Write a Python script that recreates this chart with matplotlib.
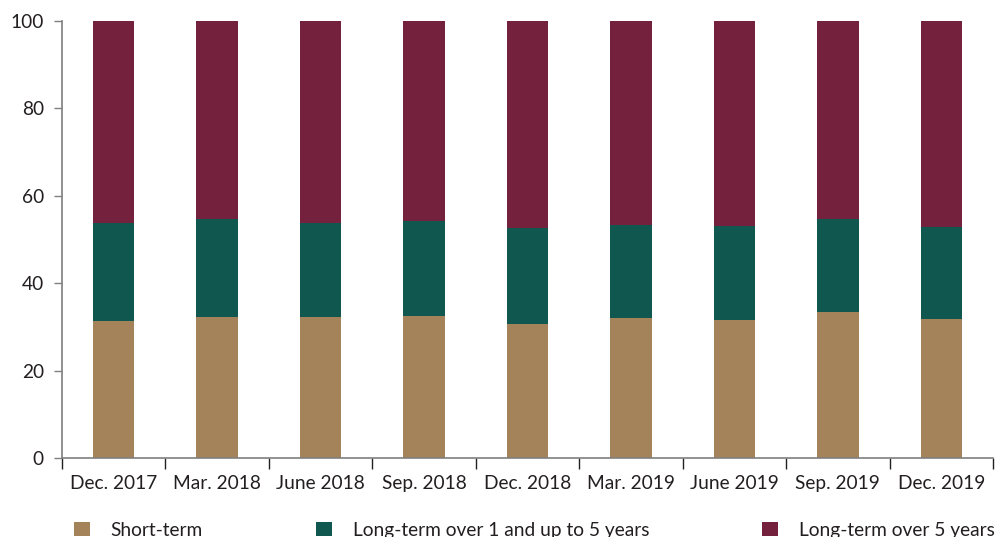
import numpy as np
import matplotlib.pyplot as plt
from matplotlib.patches import Patch

plt.rcParams['font.family'] = ['Lato', 'DejaVu Sans']
plt.rcParams['font.size'] = 13.8

# Data (percent shares)
periods = ['Dec. 2017', 'Mar. 2018', 'June 2018', 'Sep. 2018', 'Dec. 2018',
           'Mar. 2019', 'June 2019', 'Sep. 2019', 'Dec. 2019']
short_term = [31.3, 32.2, 32.3, 32.4, 30.7, 32.0, 31.5, 33.4, 31.7]
long_1_5 = [22.5, 22.4, 21.5, 21.8, 21.9, 21.3, 21.7, 21.2, 21.1]
long_5 = [100 - s - m for s, m in zip(short_term, long_1_5)]

labels = ['Short-term', 'Long-term over 1 and up to 5 years', 'Long-term over 5 years']
colors = ['#A5835A', '#10584F', '#74213E']
text_col = '#231F20'
axis_col = '#7F7F7F'

fig = plt.figure(figsize=(9.97, 5.37), dpi=100)
ax = fig.add_axes([62/997, (537-458)/537, (993-62)/997, (458-21)/537])

x = np.arange(len(periods))
w = 0.4
ax.bar(x, short_term, w, color=colors[0])
ax.bar(x, long_1_5, w, bottom=short_term, color=colors[1])
ax.bar(x, long_5, w, bottom=np.array(short_term) + np.array(long_1_5), color=colors[2])

ax.set_xlim(-0.5, len(periods) - 0.5)
ax.set_ylim(0, 100)
ax.set_yticks([0, 20, 40, 60, 80, 100])

# category separators as x ticks
ax.set_xticks(np.arange(len(periods) + 1) - 0.5)
ax.set_xticklabels([])
ax.set_xticks(x, minor=True)
ax.set_xticklabels(periods, minor=True)
ax.tick_params(axis='x', which='major', length=8, width=1, color=text_col, direction='out')
ax.tick_params(axis='x', which='minor', length=0, pad=12, labelcolor=text_col)
ax.tick_params(axis='y', length=6, width=1, color=axis_col, pad=7, labelcolor=text_col)

for s in ['top', 'right']:
    ax.spines[s].set_visible(False)
for s in ['left', 'bottom']:
    ax.spines[s].set_color(axis_col)
    ax.spines[s].set_linewidth(1.2)

handles = [Patch(facecolor=c, edgecolor='none') for c in colors]
fig.legend(handles, labels, ncol=3, mode='expand', frameon=False,
           loc='lower left', bbox_to_anchor=(57/997, -0.035, (1012-57)/997, 0.05),
           handlelength=0.8, handleheight=0.8, handletextpad=1.1,
           labelcolor=text_col, fontsize=13.8)

fig.savefig('out.png', dpi=100)
